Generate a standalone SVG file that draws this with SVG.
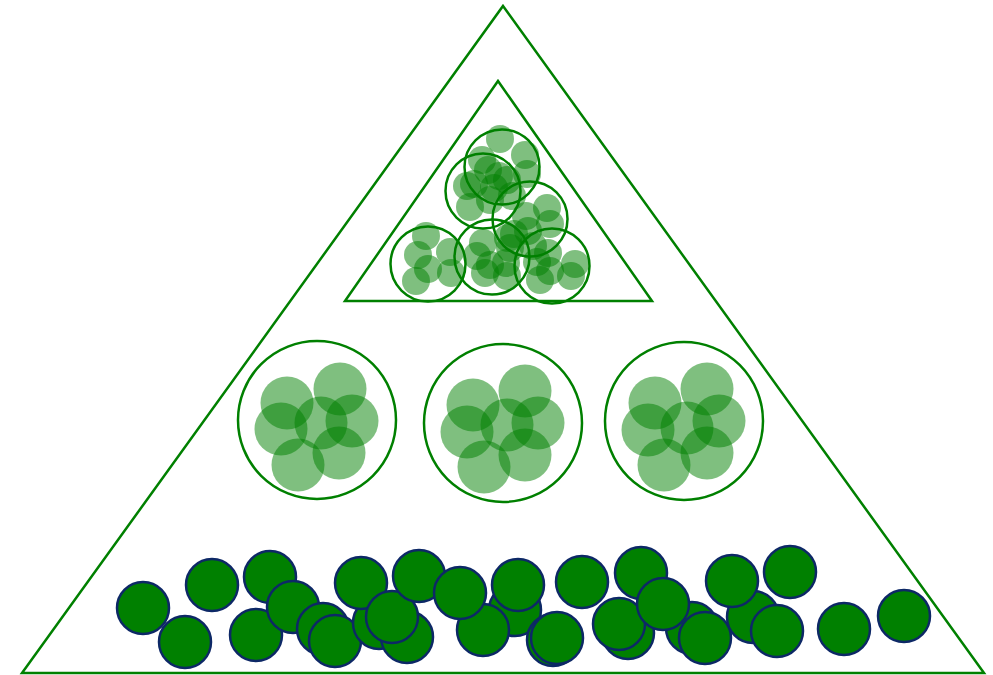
<svg xmlns="http://www.w3.org/2000/svg" width="993" height="675" viewBox="0 0 993 675">
<style>
.tri{fill:none;stroke:#008000;stroke-width:2.5;stroke-linejoin:miter}
.ring{fill:none;stroke:#008000;stroke-width:2.5}
.soft{fill:#008000;fill-opacity:0.5;stroke:none}
.ball{fill:#008000;stroke:#0d2866;stroke-width:2.5}
</style>
<rect width="993" height="675" fill="#ffffff"/>
<g id="outer-triangle"><polygon class="tri" points="503,6 984,673 22,673"/></g>
<g id="inner-triangle"><polygon class="tri" points="498,81 652,301 345,301"/></g>

<g id="mini-clusters">
<g id="miniA">
<circle class="soft" cx="500" cy="139" r="14"/><circle class="soft" cx="525" cy="155" r="14"/><circle class="soft" cx="482" cy="160" r="14"/><circle class="soft" cx="499" cy="176" r="14"/><circle class="soft" cx="527" cy="174" r="14"/><circle class="soft" cx="474" cy="184" r="14"/><circle class="soft" cx="494" cy="188" r="14"/>
</g>
<g id="miniB">
<circle class="soft" cx="470" cy="207" r="14"/><circle class="soft" cx="488" cy="170" r="14"/><circle class="soft" cx="507" cy="180" r="14"/><circle class="soft" cx="490" cy="200" r="14"/><circle class="soft" cx="512" cy="196" r="14"/><circle class="soft" cx="467" cy="186" r="14"/>
</g>
<g id="miniC">
<circle class="soft" cx="547" cy="208" r="14"/><circle class="soft" cx="550" cy="224" r="14"/><circle class="soft" cx="526" cy="216" r="14"/><circle class="soft" cx="528" cy="231" r="14"/><circle class="soft" cx="514" cy="234" r="14"/><circle class="soft" cx="510" cy="248" r="14"/><circle class="soft" cx="533" cy="246" r="14"/>
</g>
<g id="miniD">
<circle class="soft" cx="426" cy="236" r="14"/><circle class="soft" cx="450" cy="252" r="14"/><circle class="soft" cx="418" cy="255" r="14"/><circle class="soft" cx="428" cy="269" r="14"/><circle class="soft" cx="451" cy="273" r="14"/><circle class="soft" cx="416" cy="281" r="14"/>
</g>
<g id="miniE">
<circle class="soft" cx="483" cy="243" r="14"/><circle class="soft" cx="508" cy="238" r="14"/><circle class="soft" cx="477" cy="256" r="14"/><circle class="soft" cx="490" cy="265" r="14"/><circle class="soft" cx="506" cy="263" r="14"/><circle class="soft" cx="485" cy="273" r="14"/><circle class="soft" cx="507" cy="276" r="14"/>
</g>
<g id="miniF">
<circle class="soft" cx="548" cy="253" r="14"/><circle class="soft" cx="575" cy="264" r="14"/><circle class="soft" cx="540" cy="280" r="14"/><circle class="soft" cx="550" cy="271" r="14"/><circle class="soft" cx="571" cy="276" r="14"/><circle class="soft" cx="537" cy="262" r="14"/>
</g>
<circle class="ring" cx="502" cy="167" r="37.5"/>
<circle class="ring" cx="483" cy="191" r="37.5"/>
<circle class="ring" cx="530" cy="219" r="37.5"/>
<circle class="ring" cx="428" cy="264" r="37.5"/>
<circle class="ring" cx="492" cy="257" r="37.5"/>
<circle class="ring" cx="552" cy="266" r="37.5"/>
</g>

<g id="cluster-left">
<circle class="ring" cx="317" cy="420" r="79"/>
<circle class="soft" cx="287" cy="403" r="26.5"/><circle class="soft" cx="340" cy="389" r="26.5"/><circle class="soft" cx="281" cy="429" r="26.5"/><circle class="soft" cx="321" cy="423" r="26.5"/><circle class="soft" cx="352" cy="421" r="26.5"/><circle class="soft" cx="298" cy="465" r="26.5"/><circle class="soft" cx="339" cy="453" r="26.5"/>
</g>
<g id="cluster-middle">
<circle class="ring" cx="503" cy="423" r="79"/>
<circle class="soft" cx="473" cy="405" r="26.5"/><circle class="soft" cx="525" cy="391" r="26.5"/><circle class="soft" cx="467" cy="432" r="26.5"/><circle class="soft" cx="507" cy="425" r="26.5"/><circle class="soft" cx="538" cy="423" r="26.5"/><circle class="soft" cx="484" cy="467" r="26.5"/><circle class="soft" cx="525" cy="455" r="26.5"/>
</g>
<g id="cluster-right">
<circle class="ring" cx="684" cy="421" r="79"/>
<circle class="soft" cx="655" cy="403" r="26.5"/><circle class="soft" cx="707" cy="389" r="26.5"/><circle class="soft" cx="648" cy="430" r="26.5"/><circle class="soft" cx="687" cy="428" r="26.5"/><circle class="soft" cx="719" cy="421" r="26.5"/><circle class="soft" cx="664" cy="465" r="26.5"/><circle class="soft" cx="707" cy="453" r="26.5"/>
</g>

<g id="balls">
<circle class="ball" cx="143" cy="608" r="26"/>
<circle class="ball" cx="185" cy="642" r="26"/>
<circle class="ball" cx="212" cy="585" r="26"/>
<circle class="ball" cx="270" cy="577" r="26"/>
<circle class="ball" cx="256" cy="635" r="26"/>
<circle class="ball" cx="293" cy="607" r="26"/>
<circle class="ball" cx="323" cy="629" r="26"/>
<circle class="ball" cx="335" cy="641" r="26"/>
<circle class="ball" cx="379" cy="623" r="26"/>
<circle class="ball" cx="407" cy="637" r="26"/>
<circle class="ball" cx="361" cy="583" r="26"/>
<circle class="ball" cx="392" cy="617" r="26"/>
<circle class="ball" cx="419" cy="576" r="26"/>
<circle class="ball" cx="515" cy="610" r="26"/>
<circle class="ball" cx="483" cy="630" r="26"/>
<circle class="ball" cx="460" cy="593" r="26"/>
<circle class="ball" cx="518" cy="585" r="26"/>
<circle class="ball" cx="553" cy="640" r="26"/>
<circle class="ball" cx="557" cy="638" r="26"/>
<circle class="ball" cx="582" cy="582" r="26"/>
<circle class="ball" cx="641" cy="573" r="26"/>
<circle class="ball" cx="628" cy="633" r="26"/>
<circle class="ball" cx="619" cy="624" r="26"/>
<circle class="ball" cx="692" cy="628" r="26"/>
<circle class="ball" cx="663" cy="604" r="26"/>
<circle class="ball" cx="705" cy="638" r="26"/>
<circle class="ball" cx="753" cy="617" r="26"/>
<circle class="ball" cx="732" cy="581" r="26"/>
<circle class="ball" cx="777" cy="631" r="26"/>
<circle class="ball" cx="790" cy="572" r="26"/>
<circle class="ball" cx="844" cy="629" r="26"/>
<circle class="ball" cx="904" cy="616" r="26"/>
</g>
</svg>
